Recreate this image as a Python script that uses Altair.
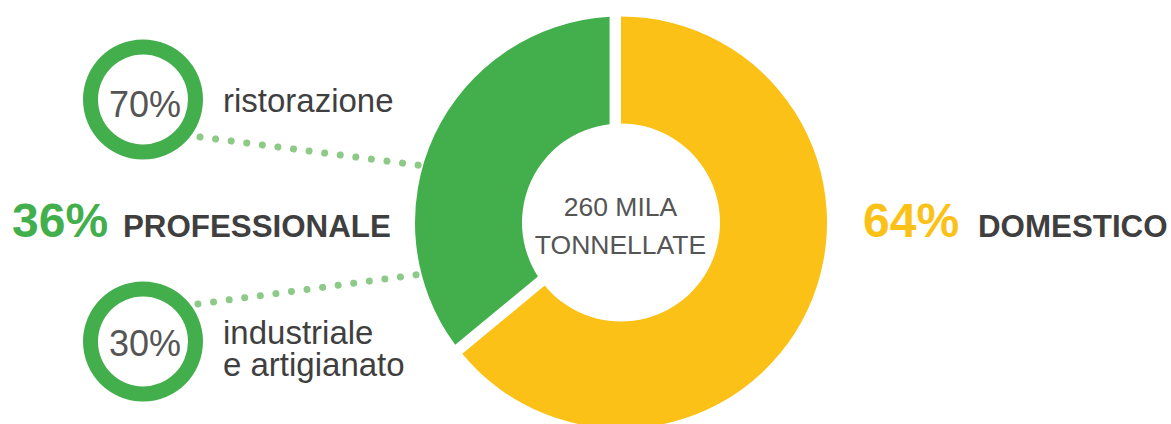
import math
import altair as alt
import pandas as pd

# ---------------- data ----------------
main_labels = ["DOMESTICO", "PROFESSIONALE"]
main_shares = [64, 36]
main_pct_text = ["64%", "36%"]

sub_labels = [["ristorazione"], ["industriale", "e artigianato"]]
sub_shares = [70, 30]
sub_pct_text = ["70%", "30%"]

center_text = "260 MILA\nTONNELLATE"

# ---------------- style / layout ----------------
W, H = 1171, 424
FONT = "Liberation Sans"
GREEN = "#42AF4C"
YELLOW = "#FCC116"
DOT = "#8DCA88"
DARK = "#3F3F3F"
GREY = "#555555"

main_colors = [YELLOW, GREEN]
main_pad = [0.0, 0.1]
CX, CY = 621, 222.5
R_OUT, R_IN = 206, 99

big_pct_x = [863, 12]
big_label_x = [978, 123]
big_baseline = 237

ring_x = [143, 143]
ring_y = [99.5, 341.5]
ring_text_x = [145, 145]
ring_text_y = [116.5, 356]
ring_r_out, ring_r_in = 60, 45
sub_label_x = 223
sub_label_y = [112, 344]
sub_line_h = 32
line_x1 = [200, 198]
line_y1 = [137, 304]
line_x2 = [421, 419]
line_y2 = [165.5, 274.5]

# ---------------- tables ----------------
total = sum(main_shares)
t0, t1, acc = [], [], 0.0
for v in main_shares:
    t0.append(acc / total * 2 * math.pi)
    acc += v
    t1.append(acc / total * 2 * math.pi)

main_df = pd.DataFrame({
    "label": main_labels, "share": main_shares, "pct": main_pct_text,
    "t0": t0, "t1": t1, "color": main_colors,
    "px": big_pct_x, "lx": big_label_x,
})

sub_df = pd.DataFrame({
    "share": sub_shares, "pct": sub_pct_text,
    "rx": ring_x, "ry": ring_y, "tx": ring_text_x, "ty": ring_text_y,
    "x1": line_x1, "y1": line_y1, "x2": line_x2, "y2": line_y2,
})

lab_rows = []
for i, lines in enumerate(sub_labels):
    for j, line in enumerate(lines):
        lab_rows.append({"text": line, "lx": sub_label_x, "ly": sub_label_y[i] + j * sub_line_h})
lab_df = pd.DataFrame(lab_rows)

layers = []

# donut slices (separate layers so each can have its own padding)
for i in range(len(main_labels)):
    layers.append(
        alt.Chart(main_df.iloc[[i]]).mark_arc(
            radius=R_OUT, radius2=R_IN, padAngle=main_pad[i], color=main_colors[i]
        ).encode(
            theta=alt.Theta("t0:Q", scale=None),
            theta2="t1:Q",
            x=alt.value(CX),
            y=alt.value(CY),
        )
    )

center = alt.Chart(pd.DataFrame({"t": [center_text]})).mark_text(
    font=FONT, fontSize=26.5, color=GREY, align="center", baseline="alphabetic",
    lineBreak="\n", lineHeight=38.6,
).encode(text="t:N", x=alt.value(CX - 0.5), y=alt.value(215.7))
layers.append(center)

big_pct = alt.Chart(main_df).mark_text(
    font=FONT, fontSize=48, fontWeight="bold", align="left", baseline="alphabetic"
).encode(
    x=alt.X("px:Q", scale=None), y=alt.value(big_baseline),
    text="pct:N", color=alt.Color("color:N", scale=None),
)
big_lab = alt.Chart(main_df).mark_text(
    font=FONT, fontSize=31.3, fontWeight="bold", align="left", baseline="alphabetic", color=DARK
).encode(
    x=alt.X("lx:Q", scale=None), y=alt.value(big_baseline), text="label:N",
)
layers += [big_pct, big_lab]

dots = alt.Chart(sub_df).mark_rule(
    color=DOT, strokeWidth=7, strokeCap="round", strokeDash=[0.01, 15.7]
).encode(
    x=alt.X("x1:Q", scale=None), y=alt.Y("y1:Q", scale=None),
    x2="x2:Q", y2="y2:Q",
)
rings = alt.Chart(sub_df).mark_arc(
    radius=ring_r_out, radius2=ring_r_in, theta=0, theta2=2 * math.pi, color=GREEN
).encode(
    x=alt.X("rx:Q", scale=None), y=alt.Y("ry:Q", scale=None),
)
ring_txt = alt.Chart(sub_df).mark_text(
    font=FONT, fontSize=36, color=GREY, align="center", baseline="alphabetic"
).encode(
    x=alt.X("tx:Q", scale=None), y=alt.Y("ty:Q", scale=None), text="pct:N",
)
sub_lab = alt.Chart(lab_df).mark_text(
    font=FONT, fontSize=33, color=DARK, align="left", baseline="alphabetic",
).encode(
    x=alt.X("lx:Q", scale=None), y=alt.Y("ly:Q", scale=None), text="text:N",
)
layers += [dots, rings, ring_txt, sub_lab]

chart = alt.layer(*layers).properties(
    width=W, height=H, padding=0, autosize=alt.AutoSizeParams(type="none"),
    background="white",
).configure_view(stroke=None)

chart.save("out.html", embed_options={"renderer": "svg", "actions": False})
